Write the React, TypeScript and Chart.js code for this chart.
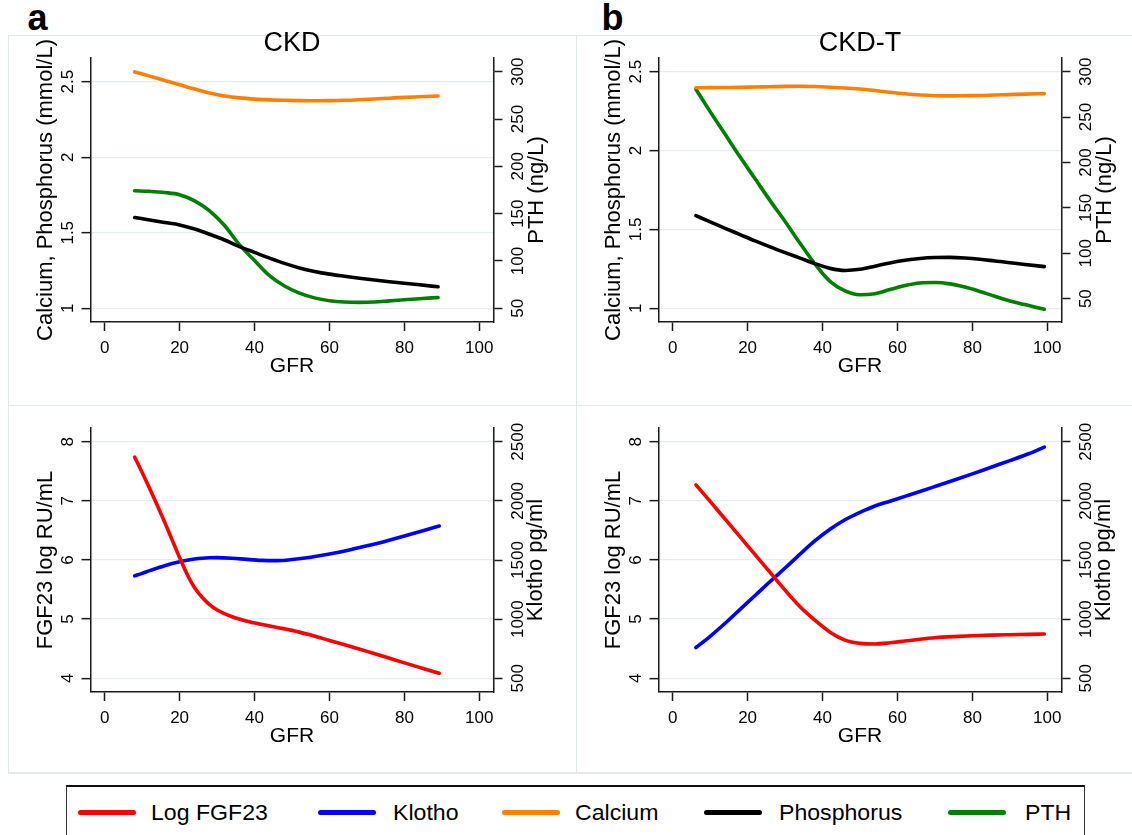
import React, { useEffect, useRef } from 'react';
import { Chart, registerables } from 'chart.js';

Chart.register(...registerables);

const FONT = '"Liberation Sans", Arial, Helvetica, sans-serif';

// ---------------- tick labels ----------------
const gfrTicks = [0, 20, 40, 60, 80, 100];
const mineralTicks = [1, 1.5, 2, 2.5];
const pthTicks = [50, 100, 150, 200, 250, 300];
const fgf23Ticks = [4, 5, 6, 7, 8];
const klothoTicks = [500, 1000, 1500, 2000, 2500];

// ---------------- series names / colours ----------------
const seriesNames = ['Log FGF23', 'Klotho', 'Calcium', 'Phosphorus', 'PTH'];
const seriesColors = ['#ff0000', '#0000ff', '#ff8000', '#000000', '#008000'];

// ---------------- panel a (CKD), top ----------------
const ckdMineralGfr = [8, 12, 16, 20, 24, 28, 32, 36, 40, 44, 48, 52, 56, 60, 64, 68, 72, 76, 80, 84, 89];
const ckdCalcium = [2.565, 2.537, 2.508, 2.48, 2.452, 2.426, 2.406, 2.393, 2.385, 2.38, 2.377, 2.375, 2.374, 2.375, 2.377, 2.381, 2.386, 2.391, 2.396, 2.4, 2.405];
const ckdPhosphorus = [1.601, 1.585, 1.568, 1.552, 1.525, 1.49, 1.452, 1.408, 1.37, 1.332, 1.297, 1.267, 1.244, 1.226, 1.212, 1.199, 1.187, 1.176, 1.166, 1.156, 1.142];
const ckdPth = [174.2, 173.5, 172.3, 170, 163.5, 153, 137.5, 117, 100.5, 84.5, 73.5, 66, 61, 58, 56.6, 56.2, 56.6, 57.8, 59, 60.1, 61.4];

// ---------------- panel a (CKD), bottom ----------------
const ckdBoneGfr = [8, 10, 12, 14, 16, 18, 20, 22, 24, 26, 28, 30, 34, 38, 42, 46, 50, 55, 60, 65, 70, 75, 80, 85, 89.3];
const ckdFgf23 = [7.74, 7.48, 7.21, 6.93, 6.64, 6.34, 6.04, 5.76, 5.53, 5.37, 5.245, 5.155, 5.04, 4.965, 4.91, 4.86, 4.81, 4.73, 4.64, 4.55, 4.455, 4.36, 4.26, 4.165, 4.085];
const ckdKlotho = [1366, 1387, 1410, 1431, 1452, 1470, 1486, 1498, 1508, 1515, 1519, 1520, 1515, 1505, 1497, 1495, 1504, 1524, 1551, 1583, 1620, 1659, 1702, 1748, 1787];

// ---------------- panel b (CKD-T), top ----------------
const ckdtMineralGfr = [6.2, 10, 14, 18, 22, 26, 30, 34, 38, 42, 46, 50, 54, 58, 62, 66, 70, 74, 78, 82, 86, 90, 94, 99.2];
const ckdtCalcium = [2.398, 2.399, 2.4, 2.401, 2.403, 2.405, 2.407, 2.408, 2.406, 2.402, 2.397, 2.39, 2.381, 2.37, 2.36, 2.352, 2.348, 2.347, 2.348, 2.349, 2.352, 2.355, 2.358, 2.361];
const ckdtPhosphorus = [1.587, 1.548, 1.507, 1.467, 1.427, 1.389, 1.353, 1.318, 1.283, 1.253, 1.24, 1.247, 1.267, 1.287, 1.304, 1.316, 1.322, 1.323, 1.319, 1.311, 1.3, 1.289, 1.278, 1.264];
const ckdtPth = [280.6, 256, 231, 206, 182, 158, 135, 111, 88, 69, 58.5, 54.3, 55.5, 60, 64.5, 67.3, 67.8, 66.3, 62.8, 58, 52.6, 47.5, 43.5, 38.3];

// ---------------- panel b (CKD-T), bottom ----------------
const ckdtBoneGfr = [6.2, 10, 14, 18, 22, 26, 30, 34, 38, 42, 46, 50, 54, 58, 62, 66, 70, 75, 80, 85, 90, 95, 99.2];
const ckdtFgf23 = [7.27, 6.99, 6.69, 6.39, 6.09, 5.79, 5.49, 5.21, 4.98, 4.78, 4.645, 4.59, 4.58, 4.6, 4.63, 4.66, 4.685, 4.705, 4.72, 4.73, 4.737, 4.743, 4.749];
const ckdtKlotho = [760, 855, 965, 1083, 1200, 1318, 1432, 1550, 1663, 1760, 1840, 1903, 1957, 1997, 2038, 2079, 2121, 2174, 2228, 2284, 2340, 2398, 2455];

// ---------------- layout / style constants ----------------
const TICK_SIZE = 17;
const TICK_LEN = 9;
const LEFT_TICK_GAP = 21.8; // label centre distance from left axis
const RIGHT_TICK_GAP = 24.5; // label centre distance from right axis
const LEFT_TITLE_GAP = 45;
const AXIS = '#1a1a1a';
const GRID = '#e4edef';
const FRAME = '#e2eaec';

type Axis = { min: number; max: number; ticks: number[]; title: string };
type Series = { idx: number; gfr: number[]; values: number[]; axis: 'yL' | 'yR' };
type PanelDef = {
  key: string;
  left: number; top: number; width: number; height: number;
  area: { left: number; right: number; top: number; bottom: number };
  title: string | null;
  rightTitleGap: number;
  yL: Axis; yR: Axis;
  series: Series[];
};

const X_MIN = -3.79;
const X_MAX = 103.79;

const PANELS: PanelDef[] = [
  {
    key: 'a-top', left: 0, top: 0, width: 566, height: 400,
    area: { left: 90.5, right: 493.5, top: 58, bottom: 322 },
    title: 'CKD', rightTitleGap: 43.5,
    yL: { min: 0.909, max: 2.657, ticks: mineralTicks, title: 'Calcium, Phosphorus (mmol/L)' },
    yR: { min: 35.5, max: 314.5, ticks: pthTicks, title: 'PTH (ng/L)' },
    series: [
      { idx: 2, gfr: ckdMineralGfr, values: ckdCalcium, axis: 'yL' },
      { idx: 3, gfr: ckdMineralGfr, values: ckdPhosphorus, axis: 'yL' },
      { idx: 4, gfr: ckdMineralGfr, values: ckdPth, axis: 'yR' },
    ],
  },
  {
    key: 'b-top', left: 566, top: 0, width: 566, height: 400,
    area: { left: 658.5, right: 1061.5, top: 58, bottom: 322 },
    title: 'CKD-T', rightTitleGap: 43.5,
    yL: { min: 0.913, max: 2.587, ticks: mineralTicks, title: 'Calcium, Phosphorus (mmol/L)' },
    yR: { min: 24.3, max: 315.1, ticks: pthTicks, title: 'PTH (ng/L)' },
    series: [
      { idx: 2, gfr: ckdtMineralGfr, values: ckdtCalcium, axis: 'yL' },
      { idx: 3, gfr: ckdtMineralGfr, values: ckdtPhosphorus, axis: 'yL' },
      { idx: 4, gfr: ckdtMineralGfr, values: ckdtPth, axis: 'yR' },
    ],
  },
  {
    key: 'a-bottom', left: 0, top: 400, width: 566, height: 370,
    area: { left: 90.5, right: 493.5, top: 428, bottom: 692 },
    title: null, rightTitleGap: 42,
    yL: { min: 3.768, max: 8.232, ticks: fgf23Ticks, title: 'FGF23 log RU/mL' },
    yR: { min: 384, max: 2616, ticks: klothoTicks, title: 'Klotho pg/ml' },
    series: [
      { idx: 0, gfr: ckdBoneGfr, values: ckdFgf23, axis: 'yL' },
      { idx: 1, gfr: ckdBoneGfr, values: ckdKlotho, axis: 'yR' },
    ],
  },
  {
    key: 'b-bottom', left: 566, top: 400, width: 566, height: 370,
    area: { left: 658.5, right: 1061.5, top: 428, bottom: 692 },
    title: null, rightTitleGap: 42,
    yL: { min: 3.768, max: 8.232, ticks: fgf23Ticks, title: 'FGF23 log RU/mL' },
    yR: { min: 384, max: 2616, ticks: klothoTicks, title: 'Klotho pg/ml' },
    series: [
      { idx: 0, gfr: ckdtBoneGfr, values: ckdtFgf23, axis: 'yL' },
      { idx: 1, gfr: ckdtBoneGfr, values: ckdtKlotho, axis: 'yR' },
    ],
  },
];

function makeChart(canvas: HTMLCanvasElement, p: PanelDef): Chart {
  const leftW = p.area.left - p.left;
  const rightW = p.left + p.width - p.area.right;
  const bottomH = p.top + p.height - p.area.bottom;
  const topH = p.area.top - p.top;

  const meas = document.createElement('canvas').getContext('2d')!;
  meas.font = `${TICK_SIZE}px ${FONT}`;
  const widest = (t: number[]) => Math.max(...t.map((v) => meas.measureText(String(v)).width));
  const padL = LEFT_TICK_GAP - TICK_LEN - widest(p.yL.ticks) / 2;
  const padR = RIGHT_TICK_GAP - TICK_LEN - widest(p.yR.ticks) / 2;

  const setTicks = (vals: number[]) => (s: any) => {
    s.ticks = vals.map((v) => ({ value: v }));
  };
  const label = (v: any) => String(v);

  const rightTitle = {
    id: 'rightTitle',
    afterDraw(chart: any) {
      const { ctx, chartArea } = chart;
      ctx.save();
      ctx.font = `22px ${FONT}`;
      ctx.fillStyle = '#000';
      ctx.textAlign = 'center';
      ctx.textBaseline = 'middle';
      ctx.translate(chartArea.right + p.rightTitleGap, (chartArea.top + chartArea.bottom) / 2);
      ctx.rotate(-Math.PI / 2);
      ctx.fillText(p.yR.title, 0, 0);
      ctx.restore();
    },
  };

  const yCommon = (a: Axis, pad: number) => ({
    type: 'linear' as const,
    min: a.min,
    max: a.max,
    afterBuildTicks: setTicks(a.ticks),
    ticks: {
      autoSkip: false,
      minRotation: 90,
      maxRotation: 90,
      crossAlign: 'center' as const,
      padding: pad,
      color: '#000',
      font: { size: TICK_SIZE },
      callback: label,
    },
    border: { display: true, color: AXIS, width: 1.5 },
  });

  return new Chart(canvas, {
    type: 'line',
    data: {
      datasets: p.series.map((s) => ({
        label: seriesNames[s.idx],
        data: s.gfr.map((x, i) => ({ x, y: s.values[i] })),
        yAxisID: s.axis,
        borderColor: seriesColors[s.idx],
        backgroundColor: seriesColors[s.idx],
        borderWidth: 3.6,
        pointRadius: 0,
        cubicInterpolationMode: 'monotone' as const,
        borderCapStyle: 'round' as const,
        borderJoinStyle: 'round' as const,
        fill: false,
      })),
    },
    options: {
      responsive: false,
      animation: false,
      devicePixelRatio: 1,
      layout: { padding: { left: 0, right: 0, bottom: 0, top: p.title ? 0 : topH } },
      plugins: {
        legend: { display: false },
        tooltip: { enabled: false },
        title: p.title
          ? {
              display: true,
              text: p.title,
              fullSize: false,
              color: '#000',
              font: { size: 27, weight: 'normal', lineHeight: 1 },
              padding: { top: 30.5, bottom: topH - 30.5 - 27 },
            }
          : { display: false },
      },
      scales: {
        x: {
          type: 'linear',
          position: 'bottom',
          min: X_MIN,
          max: X_MAX,
          afterBuildTicks: setTicks(gfrTicks),
          afterFit: (s: any) => {
            s.height = bottomH;
          },
          ticks: {
            autoSkip: false,
            maxRotation: 0,
            minRotation: 0,
            padding: 7.1,
            color: '#000',
            font: { size: TICK_SIZE },
            callback: label,
          },
          grid: { drawOnChartArea: false, drawTicks: true, tickLength: TICK_LEN, tickColor: AXIS, tickWidth: 1.5 },
          border: { display: true, color: AXIS, width: 1.5 },
          title: {
            display: true,
            text: 'GFR',
            color: '#000',
            font: { size: 21 },
            padding: { top: 0, bottom: bottomH - 44.3 - 12.6 },
          },
        },
        yL: {
          ...yCommon(p.yL, padL),
          position: 'left',
          afterFit: (s: any) => {
            s.width = leftW;
          },
          grid: {
            drawOnChartArea: true,
            color: GRID,
            lineWidth: 1.3,
            drawTicks: true,
            tickLength: TICK_LEN,
            tickColor: AXIS,
            tickWidth: 1.5,
          },
          title: {
            display: true,
            text: p.yL.title,
            color: '#000',
            font: { size: 22 },
            padding: { top: leftW - LEFT_TITLE_GAP - 13.2, bottom: 0 },
          },
        },
        yR: {
          ...yCommon(p.yR, padR),
          position: 'right',
          afterFit: (s: any) => {
            s.width = rightW;
          },
          grid: { drawOnChartArea: false, drawTicks: true, tickLength: TICK_LEN, tickColor: AXIS, tickWidth: 1.5 },
          title: { display: false },
        },
      },
    } as any,
    plugins: [rightTitle],
  });
}

const legendSwatchX = [78, 318, 502, 704, 948];
const legendTextX = [151, 393, 575, 779, 1025];

export default function App() {
  const refs = useRef<(HTMLCanvasElement | null)[]>([]);

  useEffect(() => {
    Chart.defaults.font.family = FONT;
    Chart.defaults.font.size = TICK_SIZE;
    Chart.defaults.color = '#000';
    const charts = PANELS.map((p, i) => makeChart(refs.current[i] as HTMLCanvasElement, p));
    return () => charts.forEach((c) => c.destroy());
  }, []);

  const frame = (l: number, t: number, w: number, h: number, k: string) => (
    <div key={k} style={{ position: 'absolute', left: l, top: t, width: w, height: h, background: FRAME }} />
  );

  return (
    <div
      style={{
        position: 'absolute',
        left: 0,
        top: 0,
        width: 1132,
        height: 835,
        overflow: 'hidden',
        background: '#fff',
        fontFamily: FONT,
      }}
    >
      {frame(8, 34.5, 1124, 1.5, 'f1')}
      {frame(7.5, 35, 1.5, 738, 'f2')}
      {frame(575.5, 35, 1.5, 738, 'f3')}
      {frame(8, 404.5, 1124, 1.5, 'f4')}
      {frame(8, 772, 1124, 1.5, 'f5')}

      <div style={{ position: 'absolute', left: 27.5, top: 0, fontSize: 36, lineHeight: '36px', fontWeight: 'bold', color: '#000' }}>a</div>
      <div style={{ position: 'absolute', left: 601.5, top: 0, fontSize: 36, lineHeight: '36px', fontWeight: 'bold', color: '#000' }}>b</div>

      {PANELS.map((p, i) => (
        <canvas
          key={p.key}
          ref={(el) => {
            refs.current[i] = el;
          }}
          width={p.width}
          height={p.height}
          style={{ position: 'absolute', left: p.left, top: p.top, width: p.width, height: p.height }}
        />
      ))}

      <div
        style={{
          position: 'absolute',
          left: 66,
          top: 784.5,
          width: 1017,
          height: 80,
          borderTop: '2px solid #111',
          borderLeft: '1.2px solid #333',
          borderRight: '1.2px solid #333',
          background: '#fff',
        }}
      />
      {seriesNames.map((name, i) => (
        <React.Fragment key={name}>
          <div
            style={{
              position: 'absolute',
              left: legendSwatchX[i],
              top: 810.3,
              width: 58,
              height: 4.5,
              borderRadius: 2.5,
              background: seriesColors[i],
            }}
          />
          <div
            style={{
              position: 'absolute',
              left: legendTextX[i],
              top: 801.5,
              fontSize: 22,
              lineHeight: '22px',
              color: '#000',
              whiteSpace: 'nowrap',
              transform: 'scaleX(1.05)',
              transformOrigin: 'left center',
            }}
          >
            {name}
          </div>
        </React.Fragment>
      ))}
    </div>
  );
}
